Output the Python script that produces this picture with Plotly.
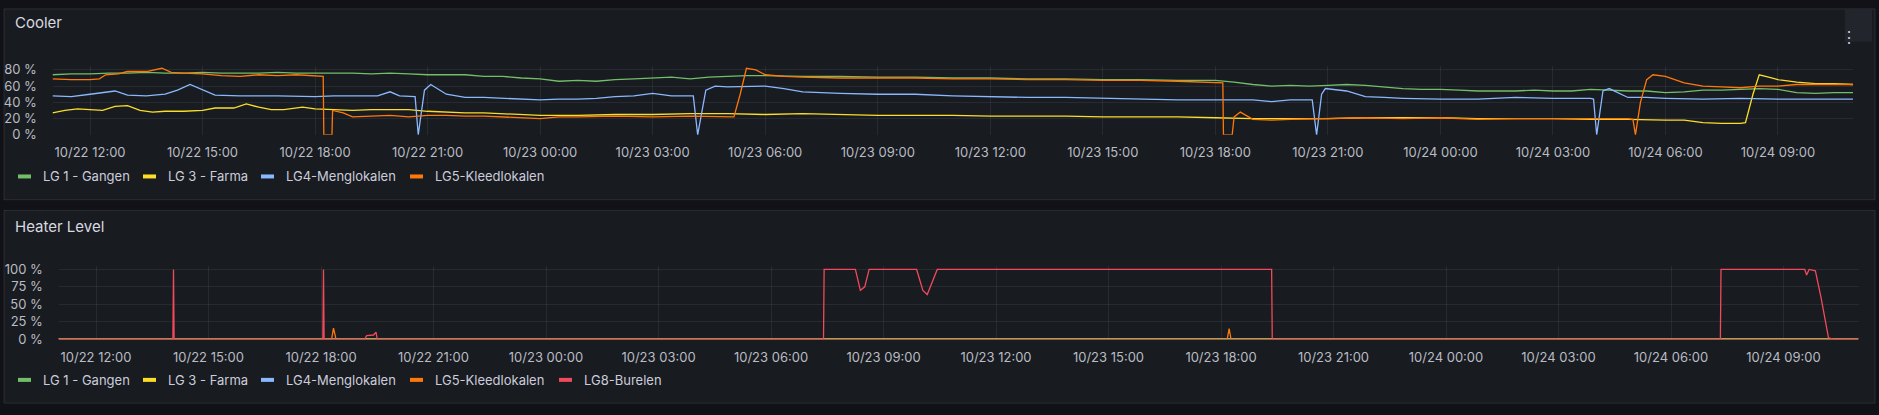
import plotly.graph_objects as go

W, H = 1879, 415
D = "2024-10-"

# ---------------- Cooler data ----------------
lg1_t = ["22 11:00","22 11:30","22 12:00","22 12:30","22 13:00","22 13:30","22 14:00","22 14:30","22 15:00","22 15:30","22 16:00","22 16:30","22 17:00","22 17:30","22 18:00","22 18:30","22 19:00","22 19:30","22 20:00","22 20:30","22 21:00","22 21:30","22 22:00","22 22:30","22 23:00","22 23:30","23 00:00","23 00:30","23 01:00","23 01:30","23 02:00","23 02:30","23 03:00","23 03:30","23 04:00","23 04:30","23 05:00","23 05:30","23 06:00","23 07:00","23 08:00","23 09:00","23 10:00","23 11:00","23 12:00","23 13:00","23 14:00","23 15:00","23 16:00","23 17:00","23 18:00","23 18:30","23 19:00","23 19:30","23 20:00","23 20:30","23 21:00","23 21:30","23 22:00","23 22:30","23 23:00","23 23:30","24 00:00","24 00:30","24 01:00","24 01:30","24 02:00","24 02:30","24 03:00","24 03:30","24 04:00","24 04:30","24 05:00","24 05:30","24 06:00","24 06:30","24 07:00","24 07:30","24 08:00","24 08:30","24 09:00","24 09:30","24 10:00","24 10:30","24 11:00"]
lg1_v = [74,75,75,76,76,77,76,76,77,76,76,76,77,76,76,76,76,75,76,75,74,74,74,72,72,70,69,66,67,66,68,69,70,71,69,71,72,73,73,72,72,71,71,70,70,69,69,68,68,67,67,65,62,60,61,60,61,62,61,59,57,56,56,55,54,54,54,55,54,54,56,55,54,54,52,53,55,55,56,57,56,52,51,52,52]

lg3_t = ["22 11:00","22 11:20","22 11:40","22 12:00","22 12:20","22 12:40","22 13:00","22 13:20","22 13:40","22 14:00","22 14:30","22 15:00","22 15:20","22 15:50","22 16:10","22 16:30","22 16:50","22 17:10","22 17:40","22 18:00","22 18:30","22 19:00","22 19:30","22 20:00","22 20:30","22 21:00","22 21:30","22 22:00","22 22:30","22 23:00","22 23:30","23 00:00","23 01:00","23 02:00","23 03:00","23 04:00","23 05:00","23 06:00","23 07:00","23 08:00","23 09:00","23 10:00","23 11:00","23 12:00","23 13:00","23 14:00","23 15:00","23 16:00","23 17:00","23 18:00","23 19:00","23 20:00","23 21:00","23 22:00","23 23:00","24 00:00","24 01:00","24 02:00","24 03:00","24 04:00","24 05:00","24 06:00","24 06:30","24 07:00","24 07:30","24 08:00","24 08:08","24 08:20","24 08:30","24 08:45","24 09:00","24 09:30","24 10:00","24 10:30","24 11:00"]
lg3_v = [27,30,32,31,30,35,36,30,28,29,29,30,33,33,38,34,31,31,34,32,31,30,31,31,31,29,28,27,27,26,25,24,24,25,25,26,26,25,26,25,24,24,24,23,23,23,22,22,22,21,20,20,20,21,21,21,20,20,20,19,19,18,18,15,14,14,15,50,74,71,68,65,63,63,62]

lg4_t = ["22 11:00","22 11:30","22 12:00","22 12:40","22 13:00","22 13:30","22 14:00","22 14:20","22 14:40","22 15:00","22 15:20","22 16:00","22 17:00","22 18:00","22 18:30","22 19:00","22 19:40","22 20:00","22 20:15","22 20:40","22 20:45","22 20:55","22 21:05","22 21:30","22 22:00","22 22:30","22 23:00","22 23:30","23 00:00","23 00:30","23 01:00","23 01:30","23 02:00","23 02:30","23 03:00","23 03:30","23 04:05","23 04:12","23 04:25","23 04:40","23 05:00","23 06:00","23 06:30","23 07:00","23 08:00","23 09:00","23 10:00","23 11:00","23 12:00","23 13:00","23 14:00","23 15:00","23 16:00","23 17:00","23 18:00","23 19:00","23 19:30","23 20:00","23 20:35","23 20:42","23 20:50","23 20:56","23 21:30","23 22:00","23 22:30","23 23:00","24 00:00","24 01:00","24 02:00","24 03:00","24 04:00","24 04:05","24 04:10","24 04:20","24 04:30","24 05:00","24 05:30","24 06:00","24 07:00","24 08:00","24 09:00","24 10:00","24 11:00"]
lg4_v = [48,47,50,54,49,48,50,55,62,55,49,48,48,47,48,48,48,53,48,47,0,55,62,50,46,46,45,44,43,44,44,45,47,48,51,48,48,0,55,60,59,60,57,53,51,50,50,48,47,46,46,45,44,43,43,43,41,43,43,0,50,57,54,47,46,45,44,44,46,45,45,44,0,54,57,46,46,45,44,45,44,44,44]

lg5_t = ["22 11:00","22 11:30","22 12:00","22 12:15","22 12:25","22 12:45","22 13:00","22 13:30","22 13:55","22 14:10","22 14:30","22 15:00","22 15:30","22 16:00","22 16:30","22 17:00","22 17:30","22 18:00","22 18:13","22 18:14","22 18:27","22 18:28","22 18:45","22 19:00","22 19:30","22 20:00","22 20:30","22 21:00","22 21:30","22 22:00","22 22:30","22 23:00","22 23:30","23 00:00","23 00:30","23 01:00","23 02:00","23 03:00","23 04:00","23 05:00","23 05:10","23 05:20","23 05:30","23 05:45","23 06:00","23 06:30","23 07:00","23 08:00","23 09:00","23 10:00","23 11:00","23 12:00","23 13:00","23 14:00","23 15:00","23 16:00","23 17:00","23 18:00","23 18:12","23 18:13","23 18:27","23 18:30","23 18:40","23 19:00","23 19:30","23 20:00","23 21:00","23 22:00","23 23:00","24 00:00","24 01:00","24 02:00","24 03:00","24 04:00","24 05:00","24 05:08","24 05:12","24 05:20","24 05:30","24 05:40","24 06:00","24 06:30","24 07:00","24 07:30","24 08:00","24 08:30","24 09:00","24 09:30","24 10:00","24 10:30","24 11:00"]
lg5_v = [69,68,68,69,74,75,78,78,82,77,76,75,73,72,74,73,74,72,72,0,0,30,27,22,23,24,22,24,24,23,23,22,21,20,22,22,23,22,23,22,22,50,82,80,74,72,71,70,70,70,69,69,68,68,67,67,66,65,64,0,0,22,28,19,18,19,20,21,20,21,19,20,20,20,20,19,0,40,68,74,72,64,60,59,58,60,60,62,62,62,62]

# ---------------- Heater data ----------------
h_flat_t = ["22 11:00","24 11:00"]
h_flat_v = [0, 0]
h5_t = ["22 11:00","22 18:17","22 18:20","22 18:24","23 18:10","23 18:13","23 18:16","24 11:00"]
h5_v = [0,0,16,0,0,15,0,0]
h8_t = ["22 11:00","22 14:03","22 14:04","22 14:05","22 18:03","22 18:04","22 18:05","22 19:10","22 19:13","22 19:24","22 19:28","22 19:30","23 07:24","23 07:25","23 08:15","23 08:23","23 08:30","23 08:37","23 09:53","23 10:03","23 10:10","23 10:26","23 19:21","23 19:22","24 07:19","24 07:20","24 09:34","24 09:37","24 09:41","24 09:51","24 10:00","24 10:08","24 10:12","24 10:20","24 11:00"]
h8_v = [0,0,100,0,0,100,0,0,5,6,10,0,0,100,100,70,75,100,100,70,64,100,100,0,0,100,100,92,100,98,60,20,2,0,0]

cooler_ticks = [0, 20, 40, 60, 80]
heater_ticks = [0, 25, 50, 75, 100]

names = ["LG 1 - Gangen", "LG 3 - Farma", "LG4-Menglokalen", "LG5-Kleedlokalen", "LG8-Burelen"]
colors = ["#73bf69", "#fade2a", "#8ab8ff", "#ff780a", "#f2495c"]

def ts(lst):
    return [D + s for s in lst]

fig = go.Figure()
cooler = [(lg1_t, lg1_v), (lg3_t, lg3_v), (lg4_t, lg4_v), (lg5_t, lg5_v)]
for (t, v), n, c in zip(cooler, names, colors):
    fig.add_trace(go.Scatter(x=ts(t), y=v, name=n, mode="lines", line=dict(color=c, width=1.3),
                             xaxis="x", yaxis="y", showlegend=False))
heater = [(h_flat_t, h_flat_v), (h_flat_t, h_flat_v), (h_flat_t, h_flat_v), (h5_t, h5_v), (h8_t, h8_v)]
for (t, v), n, c in zip(heater, names, colors):
    fig.add_trace(go.Scatter(x=ts(t), y=v, name=n, mode="lines", line=dict(color=c, width=1.3),
                             xaxis="x2", yaxis="y2", showlegend=False))

def px_x(p): return p / W
def px_y(p): return 1 - p / H

grid = "rgba(204,204,220,0.09)"
tickfont = dict(family="Inter", size=13, color="#b9bcc4")
xcommon = dict(type="date", range=[D + "22 11:00", D + "24 11:00"], tick0=D + "22 00:00", dtick=3 * 3600 * 1000,
               tickformat="%m/%d %H:%M", showgrid=True, gridcolor=grid, zeroline=False, showline=False,
               ticks="outside", ticklen=6, tickcolor="rgba(0,0,0,0)", tickfont=tickfont, fixedrange=True)
ycommon = dict(showgrid=True, gridcolor=grid, zeroline=False, showline=False,
               ticks="outside", ticklen=12, tickcolor="rgba(0,0,0,0)", tickfont=tickfont, fixedrange=True)

fig.update_layout(
    width=W, height=H, margin=dict(l=0, r=0, t=0, b=0),
    paper_bgcolor="#111217", plot_bgcolor="rgba(0,0,0,0)",
    font=dict(family="Inter", color="#ccccdc"),
    xaxis=dict(domain=[px_x(52.5), px_x(1853)], anchor="y", **xcommon),
    yaxis=dict(domain=[px_y(134), px_y(62.8)], anchor="x", range=[0, 85], tickvals=cooler_ticks,
               ticktext=[f"{v} %" for v in cooler_ticks], **ycommon),
    xaxis2=dict(domain=[px_x(58.5), px_x(1858.5)], anchor="y2", **xcommon),
    yaxis2=dict(domain=[px_y(345), px_y(269.4)], anchor="x2", range=[0, 105], tickvals=heater_ticks,
                ticktext=[f"{v} %" for v in heater_ticks], **ycommon),
    showlegend=False,
)

shapes = []
ann = []
for (top, bot, title, off) in [(4, 201, "Cooler", 14), (212, 411, "Heater Level", 17)]:
    shapes.append(dict(type="rect", xref="paper", yref="paper", x0=px_x(4), x1=px_x(1875), y0=px_y(bot), y1=px_y(top),
                       fillcolor="#181b1f", line=dict(color="rgba(204,204,220,0.12)", width=1), layer="below"))
    ann.append(dict(text=title, xref="paper", yref="paper", x=px_x(13), y=px_y(top + off), xanchor="left", yanchor="middle",
                    showarrow=False, font=dict(family="Inter", size=15, color="#d8d9e0")))

shapes.append(dict(type="rect", xref="paper", yref="paper", x0=px_x(1845), x1=px_x(1872), y0=px_y(38), y1=px_y(4),
                   fillcolor="#22252b", line=dict(width=0), layer="below"))
ann.append(dict(text="⋮", xref="paper", yref="paper", x=px_x(1858.5), y=px_y(21), showarrow=False,
                font=dict(size=16, color="#ccccdc")))

bar_x = [18, 143, 261, 410, 559]
txt_x = [41, 166, 284, 433, 582]
for ly, count in [(177, 4), (387, 5)]:
    for i in range(count):
        shapes.append(dict(type="line", xref="paper", yref="paper", x0=px_x(bar_x[i]), x1=px_x(bar_x[i] + 13),
                           y0=px_y(ly), y1=px_y(ly), line=dict(color=colors[i], width=4)))
        ann.append(dict(text=names[i], xref="paper", yref="paper", x=px_x(txt_x[i]), y=px_y(ly), xanchor="left",
                        yanchor="middle", showarrow=False, font=dict(family="Inter", size=13, color="#ccccdc")))

fig.update_layout(shapes=shapes, annotations=ann)
fig.write_html("out.html", config={"displayModeBar": False},
               post_script="document.body.style.margin='0';document.body.style.background='#111217';")
